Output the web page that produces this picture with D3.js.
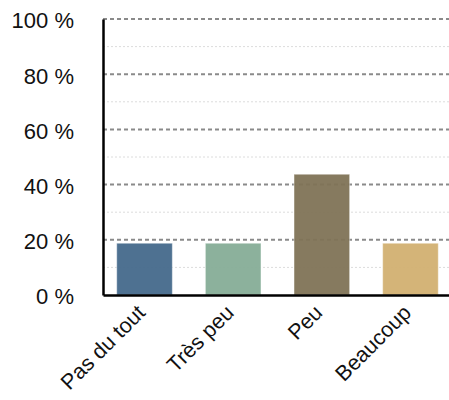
<!DOCTYPE html>
<html>
<head>
<meta charset="utf-8">
<script src="https://cdn.jsdelivr.net/npm/d3@7"></script>
<style>
  body { margin: 0; background: #fff; }
  svg text { font-family: "Liberation Sans", Arial, sans-serif; }
</style>
</head>
<body>
<div id="chart"></div>
<script>
// data
var categories = ["Pas du tout", "Très peu", "Peu", "Beaucoup"];
var values = [18.75, 18.75, 43.75, 18.75];
var colors = ["#44698b", "#86ad97", "#7f7356", "#d2b071"];
var majorTicks = [0, 20, 40, 60, 80, 100];
var minorTicks = [10, 30, 50, 70, 90];

var viewBox = {width: 449, height: 400};
var plot = {left: 103, right: 452, top: 19, bottom: 295};

var svg = d3.select("#chart")
  .append("svg")
  .attr("width", viewBox.width)
  .attr("height", viewBox.height);

var x = d3.scaleBand()
  .domain(categories)
  .range([plot.left, plot.right])
  .paddingInner(0.373)
  .paddingOuter(0.155);

var y = d3.scaleLinear()
  .domain([0, 100])
  .range([plot.bottom, plot.top]);

// minor grid
svg.append("g")
  .selectAll("line")
  .data(minorTicks)
  .join("line")
    .attr("x1", plot.left)
    .attr("x2", viewBox.width)
    .attr("y1", d => y(d))
    .attr("y2", d => y(d))
    .attr("stroke", "#dcdcdc")
    .attr("stroke-width", 1)
    .attr("stroke-dasharray", "2,2");

// major grid
svg.append("g")
  .selectAll("line")
  .data(majorTicks.filter(d => d > 0))
  .join("line")
    .attr("x1", plot.left)
    .attr("x2", viewBox.width)
    .attr("y1", d => y(d))
    .attr("y2", d => y(d))
    .attr("stroke", "#8a8a8a")
    .attr("stroke-width", 2)
    .attr("stroke-dasharray", "4,3");

// bars
svg.append("g")
  .selectAll("rect")
  .data(values)
  .join("rect")
    .attr("x", (d, i) => x(categories[i]))
    .attr("y", d => y(d))
    .attr("width", x.bandwidth())
    .attr("height", d => y(0) - y(d))
    .attr("fill", (d, i) => colors[i])
    .attr("fill-opacity", 0.95)
    .attr("stroke", "#ffffff")
    .attr("stroke-opacity", 0.4)
    .attr("stroke-width", 1);

// y axis
var yAxis = svg.append("g")
  .attr("transform", "translate(" + plot.left + ",0)")
  .call(d3.axisLeft(y).tickValues(majorTicks).tickSize(0).tickPadding(29)
    .tickFormat(d => d + " %"));
yAxis.select(".domain").attr("stroke", "#000").attr("stroke-width", 2.5);
yAxis.selectAll("text")
  .attr("font-size", 22)
  .attr("dy", "0.4em")
  .attr("fill", "#111");

// x axis
var xAxis = svg.append("g")
  .attr("transform", "translate(0," + plot.bottom + ")")
  .call(d3.axisBottom(x).tickSize(0).tickFormat(""));
xAxis.select(".domain").attr("stroke", "#000").attr("stroke-width", 2.5);

// rotated category labels
svg.append("g")
  .selectAll("text")
  .data(categories)
  .join("text")
    .attr("transform", d => "translate(" + (x(d) + x.bandwidth() / 2 + 2) + ",314) rotate(-45)")
    .attr("text-anchor", "end")
    .attr("font-size", 21.5)
    .attr("fill", "#111")
    .text(d => d);
</script>
</body>
</html>
